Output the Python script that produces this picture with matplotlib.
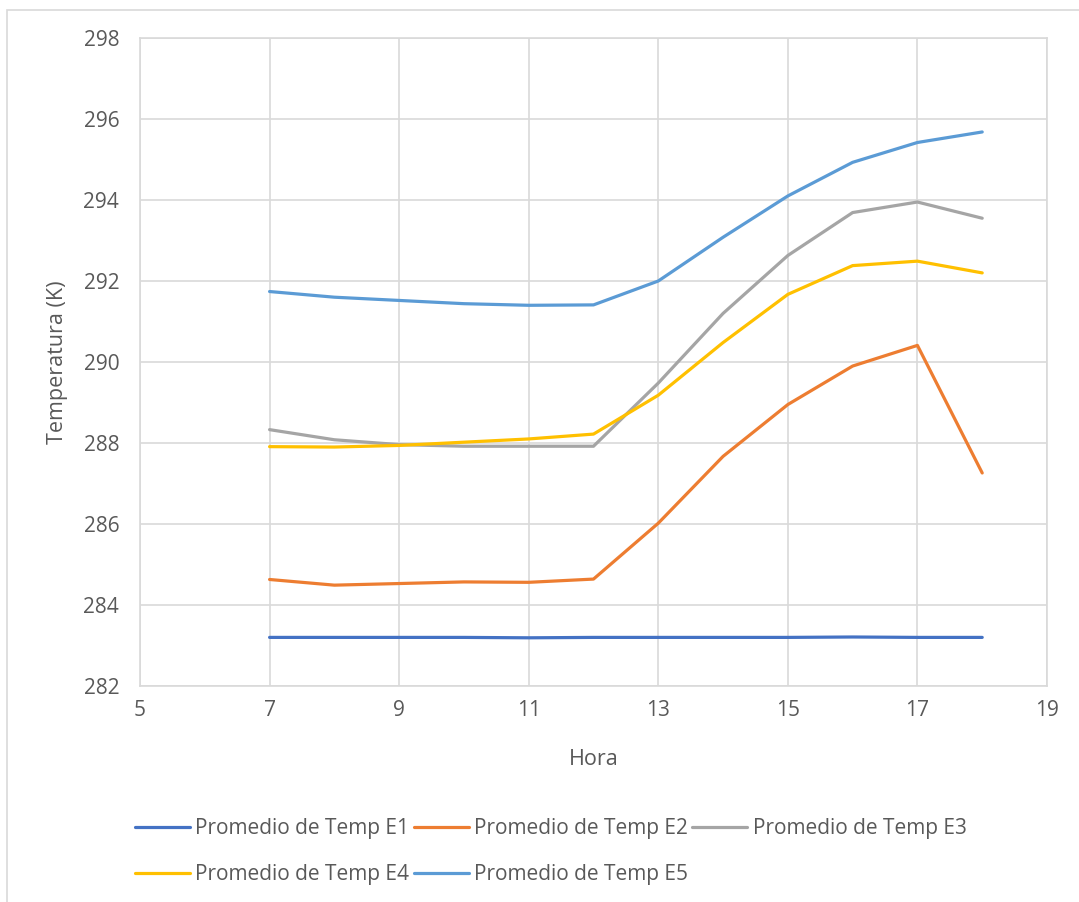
import matplotlib.pyplot as plt
from matplotlib.patches import Rectangle

plt.rcParams["font.family"] = ["Open Sans", "DejaVu Sans"]

hora = [7, 8, 9, 10, 11, 12, 13, 14, 15, 16, 17, 18]

temp_e1 = [283.20, 283.20, 283.20, 283.20, 283.19, 283.20, 283.20, 283.20, 283.20, 283.21, 283.20, 283.20]
temp_e2 = [284.63, 284.49, 284.53, 284.57, 284.56, 284.64, 286.02, 287.67, 288.95, 289.90, 290.41, 287.26]
temp_e3 = [288.33, 288.08, 287.96, 287.92, 287.92, 287.92, 289.48, 291.20, 292.63, 293.69, 293.95, 293.55]
temp_e4 = [287.91, 287.90, 287.94, 288.02, 288.10, 288.22, 289.18, 290.48, 291.67, 292.38, 292.49, 292.20]
temp_e5 = [291.74, 291.60, 291.52, 291.44, 291.40, 291.41, 292.00, 293.08, 294.10, 294.93, 295.42, 295.68]

series = [
    ("Promedio de Temp E1", temp_e1, "#4472C4"),
    ("Promedio de Temp E2", temp_e2, "#ED7D31"),
    ("Promedio de Temp E3", temp_e3, "#A5A5A5"),
    ("Promedio de Temp E4", temp_e4, "#FFC000"),
    ("Promedio de Temp E5", temp_e5, "#5B9BD5"),
]

text_color = "#595959"
grid_color = "#D9D9D9"

fig = plt.figure(figsize=(10.79, 9.02), dpi=100)
ax = fig.add_axes([140 / 1079, 1 - 686 / 902, 907 / 1079, 648 / 902])

# outer chart border (runs off the right and bottom edges)
fig.patches.append(Rectangle((7 / 1079, -0.05), 1.1, 1 - 9.5 / 902 + 0.05,
                             transform=fig.transFigure, fill=False,
                             edgecolor="#D9D9D9", linewidth=1.2))

lines = []
for label, vals, color in series:
    ln, = ax.plot(hora, vals, color=color, linewidth=2.3, label=label,
                  solid_capstyle="round")
    lines.append(ln)

ax.set_xlim(5, 19)
ax.set_ylim(282, 298)
ax.set_xticks(range(5, 20, 2))
ax.set_yticks(range(282, 299, 2))
ax.grid(True, color=grid_color, linewidth=1.2)
ax.set_axisbelow(True)
for s in ax.spines.values():
    s.set_color(grid_color)
    s.set_linewidth(1.2)
ax.tick_params(length=0, labelsize=15, colors=text_color)
ax.tick_params(axis="y", pad=15)
ax.tick_params(axis="x", pad=10)

ax.set_xlabel("Hora", fontsize=15.5, color=text_color, labelpad=20.5)
ax.set_ylabel("Temperatura (K)", fontsize=15.5, color=text_color, labelpad=11)

# Excel-style row-major legend order
order = [0, 3, 1, 4, 2]
fig.legend([lines[i] for i in order], [series[i][0] for i in order],
           loc="upper left", bbox_to_anchor=(135 / 1079, 1 - 818 / 902),
           borderaxespad=0, borderpad=0,
           ncol=3, frameon=False, fontsize=15, labelcolor=text_color,
           handlelength=2.65, handletextpad=0.25, columnspacing=0.2,
           labelspacing=1.2)

fig.savefig("out.png", dpi=100)
